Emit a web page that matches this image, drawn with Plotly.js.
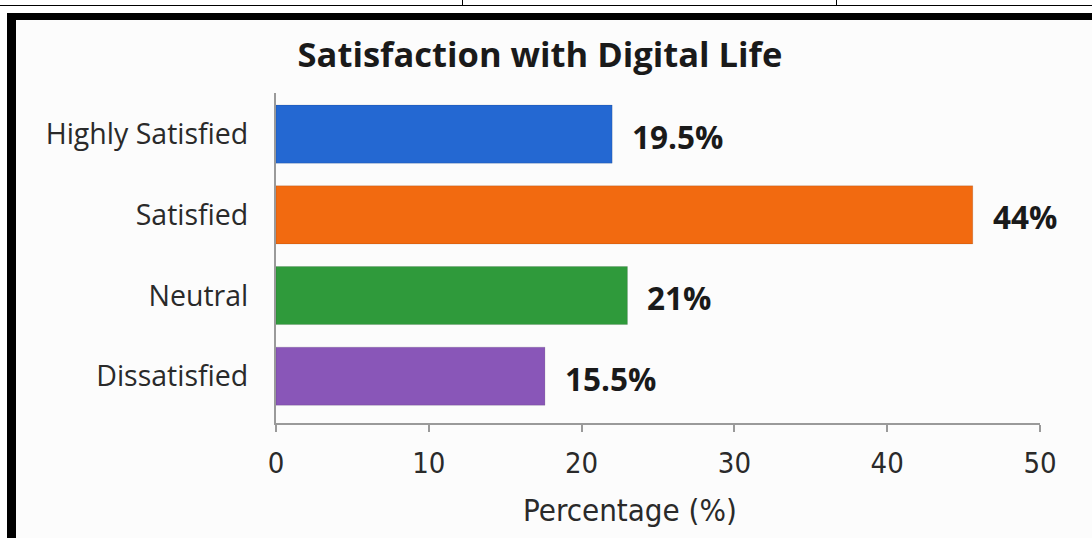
<!DOCTYPE html>
<html>
<head>
<meta charset="utf-8">
<script src="https://cdn.plot.ly/plotly-3.0.1.min.js"></script>
<style>
  html, body { margin: 0; padding: 0; background: #ffffff; }
  #wrap { position: relative; width: 1092px; height: 538px; overflow: hidden; }
  #chart { position: absolute; left: 0; top: 0; width: 1092px; height: 538px; }
  .ov { position: absolute; z-index: 10; }
</style>
</head>
<body>
<div id="wrap">
  <div id="chart"></div>
  <div class="ov" style="left:0;top:0;width:1092px;height:13px;background:#ffffff;"></div>
  <div class="ov" style="left:0;top:0;width:7px;height:538px;background:#ffffff;"></div>
  <div class="ov" style="left:0;top:5px;width:1092px;height:1px;background:#000;"></div>
  <div class="ov" style="left:462px;top:0;width:1px;height:5px;background:#000;"></div>
  <div class="ov" style="left:836px;top:0;width:1px;height:5px;background:#000;"></div>
  <div class="ov" style="left:7px;top:13px;width:1085px;height:7px;background:#000;"></div>
  <div class="ov" style="left:7px;top:13px;width:9px;height:525px;background:#000;"></div>
</div>
<script>
const categories = ["Highly Satisfied", "Satisfied", "Neutral", "Dissatisfied"];
const barValues = [22.0, 45.6, 23.0, 17.6];
const barLabels = ["19.5%", "44%", "21%", "15.5%"];
const barColors = ["#2468d2", "#f26a10", "#2f9a3b", "#8956b8"];
const xTickValues = [0, 10, 20, 30, 40, 50];
const xTickLabels = ["0", "10", "20", "30", "40", "50"];

const trace = {
  type: "bar",
  orientation: "h",
  x: barValues,
  y: categories,
  marker: {
    color: barColors,
    line: { color: "rgba(0,0,0,0.12)", width: 1 }
  },
  hoverinfo: "skip"
};

const annotations = categories.map((c, i) => ({
  x: barValues[i],
  y: c,
  xref: "x",
  yref: "y",
  text: barLabels[i],
  showarrow: false,
  xanchor: "left",
  yanchor: "middle",
  xshift: 18,
  yshift: -2,
  font: { family: "'Open Sans', Lato, sans-serif", size: 31.5, color: "#1a1a1a", weight: 700 }
}));

annotations.push({
  xref: "paper",
  yref: "paper",
  x: (630 - 276) / 764,
  y: -0.265,
  yanchor: "middle",
  xanchor: "center",
  showarrow: false,
  text: "Percentage (%)",
  font: { family: "'DejaVu Sans Condensed', 'Liberation Sans Narrow', sans-serif", size: 31, color: "#2a2a2a" }
});

const layout = {
  width: 1092,
  height: 538,
  margin: { l: 276, r: 52, t: 93, b: 115 },
  paper_bgcolor: "#fcfcfc",
  plot_bgcolor: "#fcfcfc",
  showlegend: false,
  bargap: 0.28,
  title: {
    text: "Satisfaction with Digital Life",
    x: 540 / 1092,
    xref: "container",
    xanchor: "center",
    y: 1 - 55 / 538,
    yref: "container",
    yanchor: "middle",
    font: { family: "'Open Sans', Lato, sans-serif", size: 34.5, color: "#1a1a1a", weight: 700 }
  },
  xaxis: {
    range: [0, 50],
    tickvals: xTickValues,
    ticktext: xTickLabels,
    showgrid: false,
    zeroline: false,
    showline: true,
    linecolor: "#9a9a9a",
    linewidth: 2,
    ticks: "outside",
    ticklen: 7,
    tickwidth: 2,
    tickcolor: "#9a9a9a",
    ticklabelstandoff: 6,
    tickfont: { family: "'DejaVu Sans Condensed', 'Liberation Sans Narrow', sans-serif", size: 29, color: "#2a2a2a" },
    fixedrange: true
  },
  yaxis: {
    type: "category",
    categoryorder: "array",
    categoryarray: categories,
    range: [3.58, -0.51],
    showgrid: false,
    zeroline: false,
    showline: true,
    linecolor: "#9a9a9a",
    linewidth: 2,
    ticks: "",
    ticklabelstandoff: 20,
    tickfont: { family: "'Open Sans', Lato, sans-serif", size: 28.5, color: "#2a2a2a" },
    fixedrange: true
  },
  annotations: annotations
};

Plotly.newPlot("chart", [trace], layout, { displayModeBar: false, staticPlot: true });
</script>
</body>
</html>
